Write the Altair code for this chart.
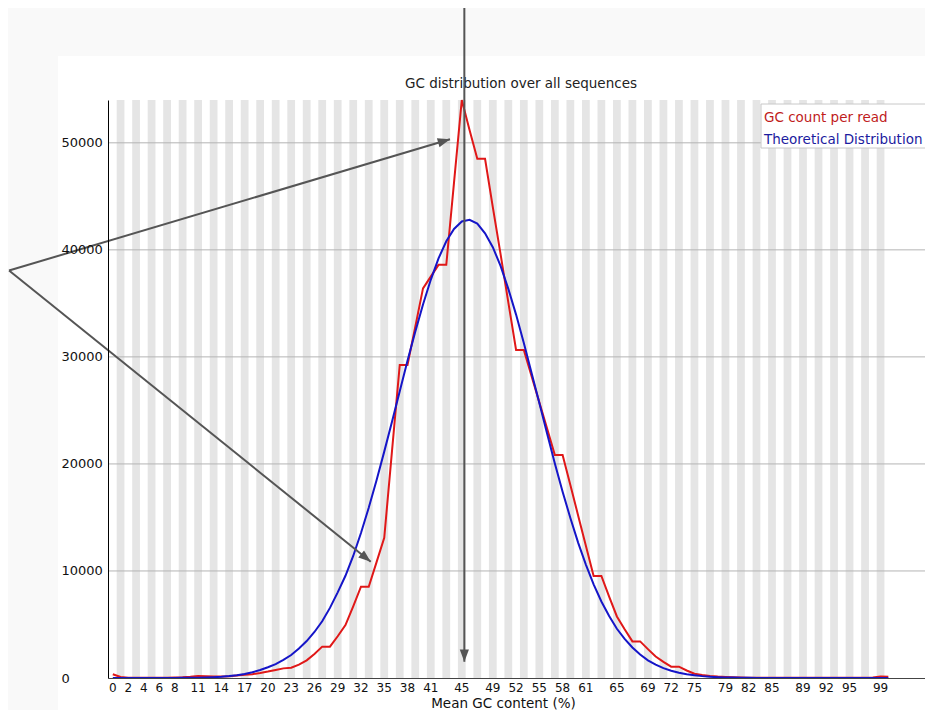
import altair as alt
import pandas as pd

# ---------------- data ----------------
gc_content = list(range(101))

gc_count_per_read = [
    350, 90, 30, 20, 20, 20, 20, 30, 40, 60,
    110, 180, 170, 150, 140, 170, 240, 300, 360, 470,
    600, 750, 900, 960, 1250, 1650, 2250, 2930, 2930, 3900,
    4950, 6700, 8530, 8530, 10800, 13100, 21200, 29250, 29250, 32800,
    36400, 37500, 38600, 38600, 46300, 54000, 51200, 48500, 48500, 44000,
    39600, 35100, 30650, 30650, 28200, 25750, 23300, 20840, 20840, 18030,
    15190, 12360, 9530, 9530, 7600, 5750, 4550, 3420, 3420, 2700,
    2000, 1500, 1060, 1060, 700, 400, 280, 190, 130, 90,
    60, 40, 35, 30, 30, 30, 30, 30, 30, 30,
    30, 30, 30, 30, 30, 30, 30, 35, 50, 130,
    120,
]

theoretical_distribution = [
    0, 0, 0, 0, 0, 2, 3, 5, 8, 12,
    20, 33, 52, 80, 120, 180, 265, 380, 540, 750,
    1000, 1300, 1700, 2150, 2750, 3450, 4300, 5300, 6550, 8000,
    9550, 11400, 13550, 15900, 18450, 21150, 23950, 26800, 29650, 32350,
    34900, 37200, 39200, 40800, 41950, 42650, 42800, 42450, 41550, 40250,
    38500, 36350, 33950, 31300, 28500, 25700, 22850, 20050, 17400, 14950,
    12650, 10600, 8750, 7150, 5800, 4600, 3650, 2850, 2200, 1650,
    1250, 920, 680, 490, 350, 250, 175, 120, 80, 55,
    37, 24, 15, 10, 6, 4, 2, 1, 0, 0,
    0, 0, 0, 0, 0, 0, 0, 0, 0, 0,
    0,
]

x_tick_labels = [0, 2, 4, 6, 8, 11, 14, 17, 20, 23, 26, 29, 32, 35, 38, 41,
                 45, 49, 52, 55, 58, 61, 65, 69, 72, 75, 79, 82, 85, 89, 92, 95, 99]
y_tick_values = [0, 10000, 20000, 30000, 40000, 50000]
grid_values = [10000, 20000, 30000, 40000, 50000]
y_max = 54000
x_domain = [-0.62, 104.73]

series_names = ["GC count per read", "Theoretical Distribution"]
series_colors = ["#e01818", "#1515c8"]
legend_text_colors = ["#c01c1c", "#1c1ca0"]

title_text = "GC distribution over all sequences"
x_title = "Mean GC content (%)"

# annotation arrows, in data units (gc %, count)
arrow_start_gc = [45.33, -13.38, -13.38]
arrow_start_count = [62780, 38070, 38070]
arrow_tip_gc = [45.33, 43.48, 33.26]
arrow_tip_count = [1523, 50330, 10865]
arrow_angle = [180, 73.5, 128.8]

# ---------------- frames ----------------
FONT = "DejaVu Sans"
W, H = 817, 578

red_df = pd.DataFrame({"gc": gc_content, "count": gc_count_per_read})
blue_df = pd.DataFrame({"gc": gc_content, "count": theoretical_distribution})
stripe_df = pd.DataFrame({
    "x0": [g - 0.5 for g in gc_content if g % 2 == 1],
    "x1": [g + 0.5 for g in gc_content if g % 2 == 1],
})
stripe_df["y0"] = 0
stripe_df["y1"] = y_max
grid_df = pd.DataFrame({"v": grid_values})
xlab_df = pd.DataFrame({"gc": x_tick_labels, "label": [str(v) for v in x_tick_labels]})
arrow_df = pd.DataFrame({
    "sx": arrow_start_gc, "sy": arrow_start_count,
    "tx": arrow_tip_gc, "ty": arrow_tip_count, "angle": arrow_angle,
})

x_scale = alt.Scale(domain=x_domain, nice=False, zero=False)
y_scale = alt.Scale(domain=[0, y_max], nice=False, zero=False)

x_axis = alt.Axis(
    values=x_tick_labels, ticks=False, grid=False, labels=False,
    domainColor="#444", domainWidth=1, zindex=1,
    title=x_title, titleFont=FONT, titleFontSize=13.5, titleFontWeight="normal",
    titleColor="#111", titleX=395, titleY=29, titleBaseline="alphabetic",
    titleAlign="center", titleAnchor="start",
)
y_axis = alt.Axis(
    values=y_tick_values, ticks=False, grid=False, labelAlign="left",
    labelPadding=47, labelBaseline="middle", labelFont=FONT, labelFontSize=13,
    labelColor="#111", domainColor="#000", domainWidth=1, format="d", title=None,
    zindex=1,
)

one = alt.Data(values=[{}])

background = alt.Chart(one).mark_rect(fill="white").encode(
    x=alt.value(-50), x2=alt.value(W + 20), y=alt.value(-44), y2=alt.value(H + 40)
)

stripes = alt.Chart(stripe_df).mark_rect(fill="#e5e5e5").encode(
    x=alt.X("x0:Q", scale=x_scale, axis=x_axis),
    x2="x1:Q",
    y=alt.Y("y0:Q", scale=y_scale, axis=y_axis),
    y2="y1:Q",
)

grid = alt.Chart(grid_df).mark_rule(color="#b4b4b4", strokeWidth=1).encode(
    y="v:Q"
)

red_line = alt.Chart(red_df).mark_line(color=series_colors[0], strokeWidth=2).encode(
    x="gc:Q", y="count:Q"
)
blue_line = alt.Chart(blue_df).mark_line(color=series_colors[1], strokeWidth=2).encode(
    x="gc:Q", y="count:Q"
)

x_labels = alt.Chart(xlab_df).mark_text(
    align="center", baseline="middle", font=FONT, fontSize=12, color="#111"
).encode(x="gc:Q", y=alt.value(H + 10), text="label:N")

chart_title = alt.Chart(one).mark_text(
    text=title_text, align="center", baseline="middle", font=FONT,
    fontSize=13.5, color="#222"
).encode(x=alt.value(413), y=alt.value(-16))

legend_box = alt.Chart(one).mark_rect(fill="white", stroke="#c8c8c8", strokeWidth=1).encode(
    x=alt.value(653), x2=alt.value(W + 20), y=alt.value(4), y2=alt.value(48)
)
legend_1 = alt.Chart(one).mark_text(
    text=series_names[0], align="left", baseline="middle", font=FONT,
    fontSize=13.5, color=legend_text_colors[0]
).encode(x=alt.value(656), y=alt.value(17.5))
legend_2 = alt.Chart(one).mark_text(
    text=series_names[1], align="left", baseline="middle", font=FONT,
    fontSize=13.5, color=legend_text_colors[1]
).encode(x=alt.value(656), y=alt.value(39.5))

arrow_lines = alt.Chart(arrow_df).mark_rule(color="#555555", strokeWidth=2).encode(
    x="sx:Q", y="sy:Q", x2="tx:Q", y2="ty:Q"
)
arrow_heads = alt.Chart(arrow_df).mark_point(
    shape="M0,0 L-0.75,2 L0.75,2 Z", filled=True, color="#555555",
    opacity=1, size=151
).encode(
    x="tx:Q", y="ty:Q", angle=alt.Angle("angle:Q", scale=None)
)

chart = alt.layer(
    background, stripes, grid, red_line, blue_line, x_labels, chart_title,
    legend_box, legend_1, legend_2, arrow_lines, arrow_heads,
).properties(
    width=W, height=H,
    autosize=alt.AutoSizeParams(type="none"),
    padding={"left": 100, "top": 92, "right": 0, "bottom": 32},
).configure(
    background="#f9f9f9"
).configure_view(
    stroke="transparent"
)

chart.save("out.html", embed_options={"renderer": "svg", "actions": False})
